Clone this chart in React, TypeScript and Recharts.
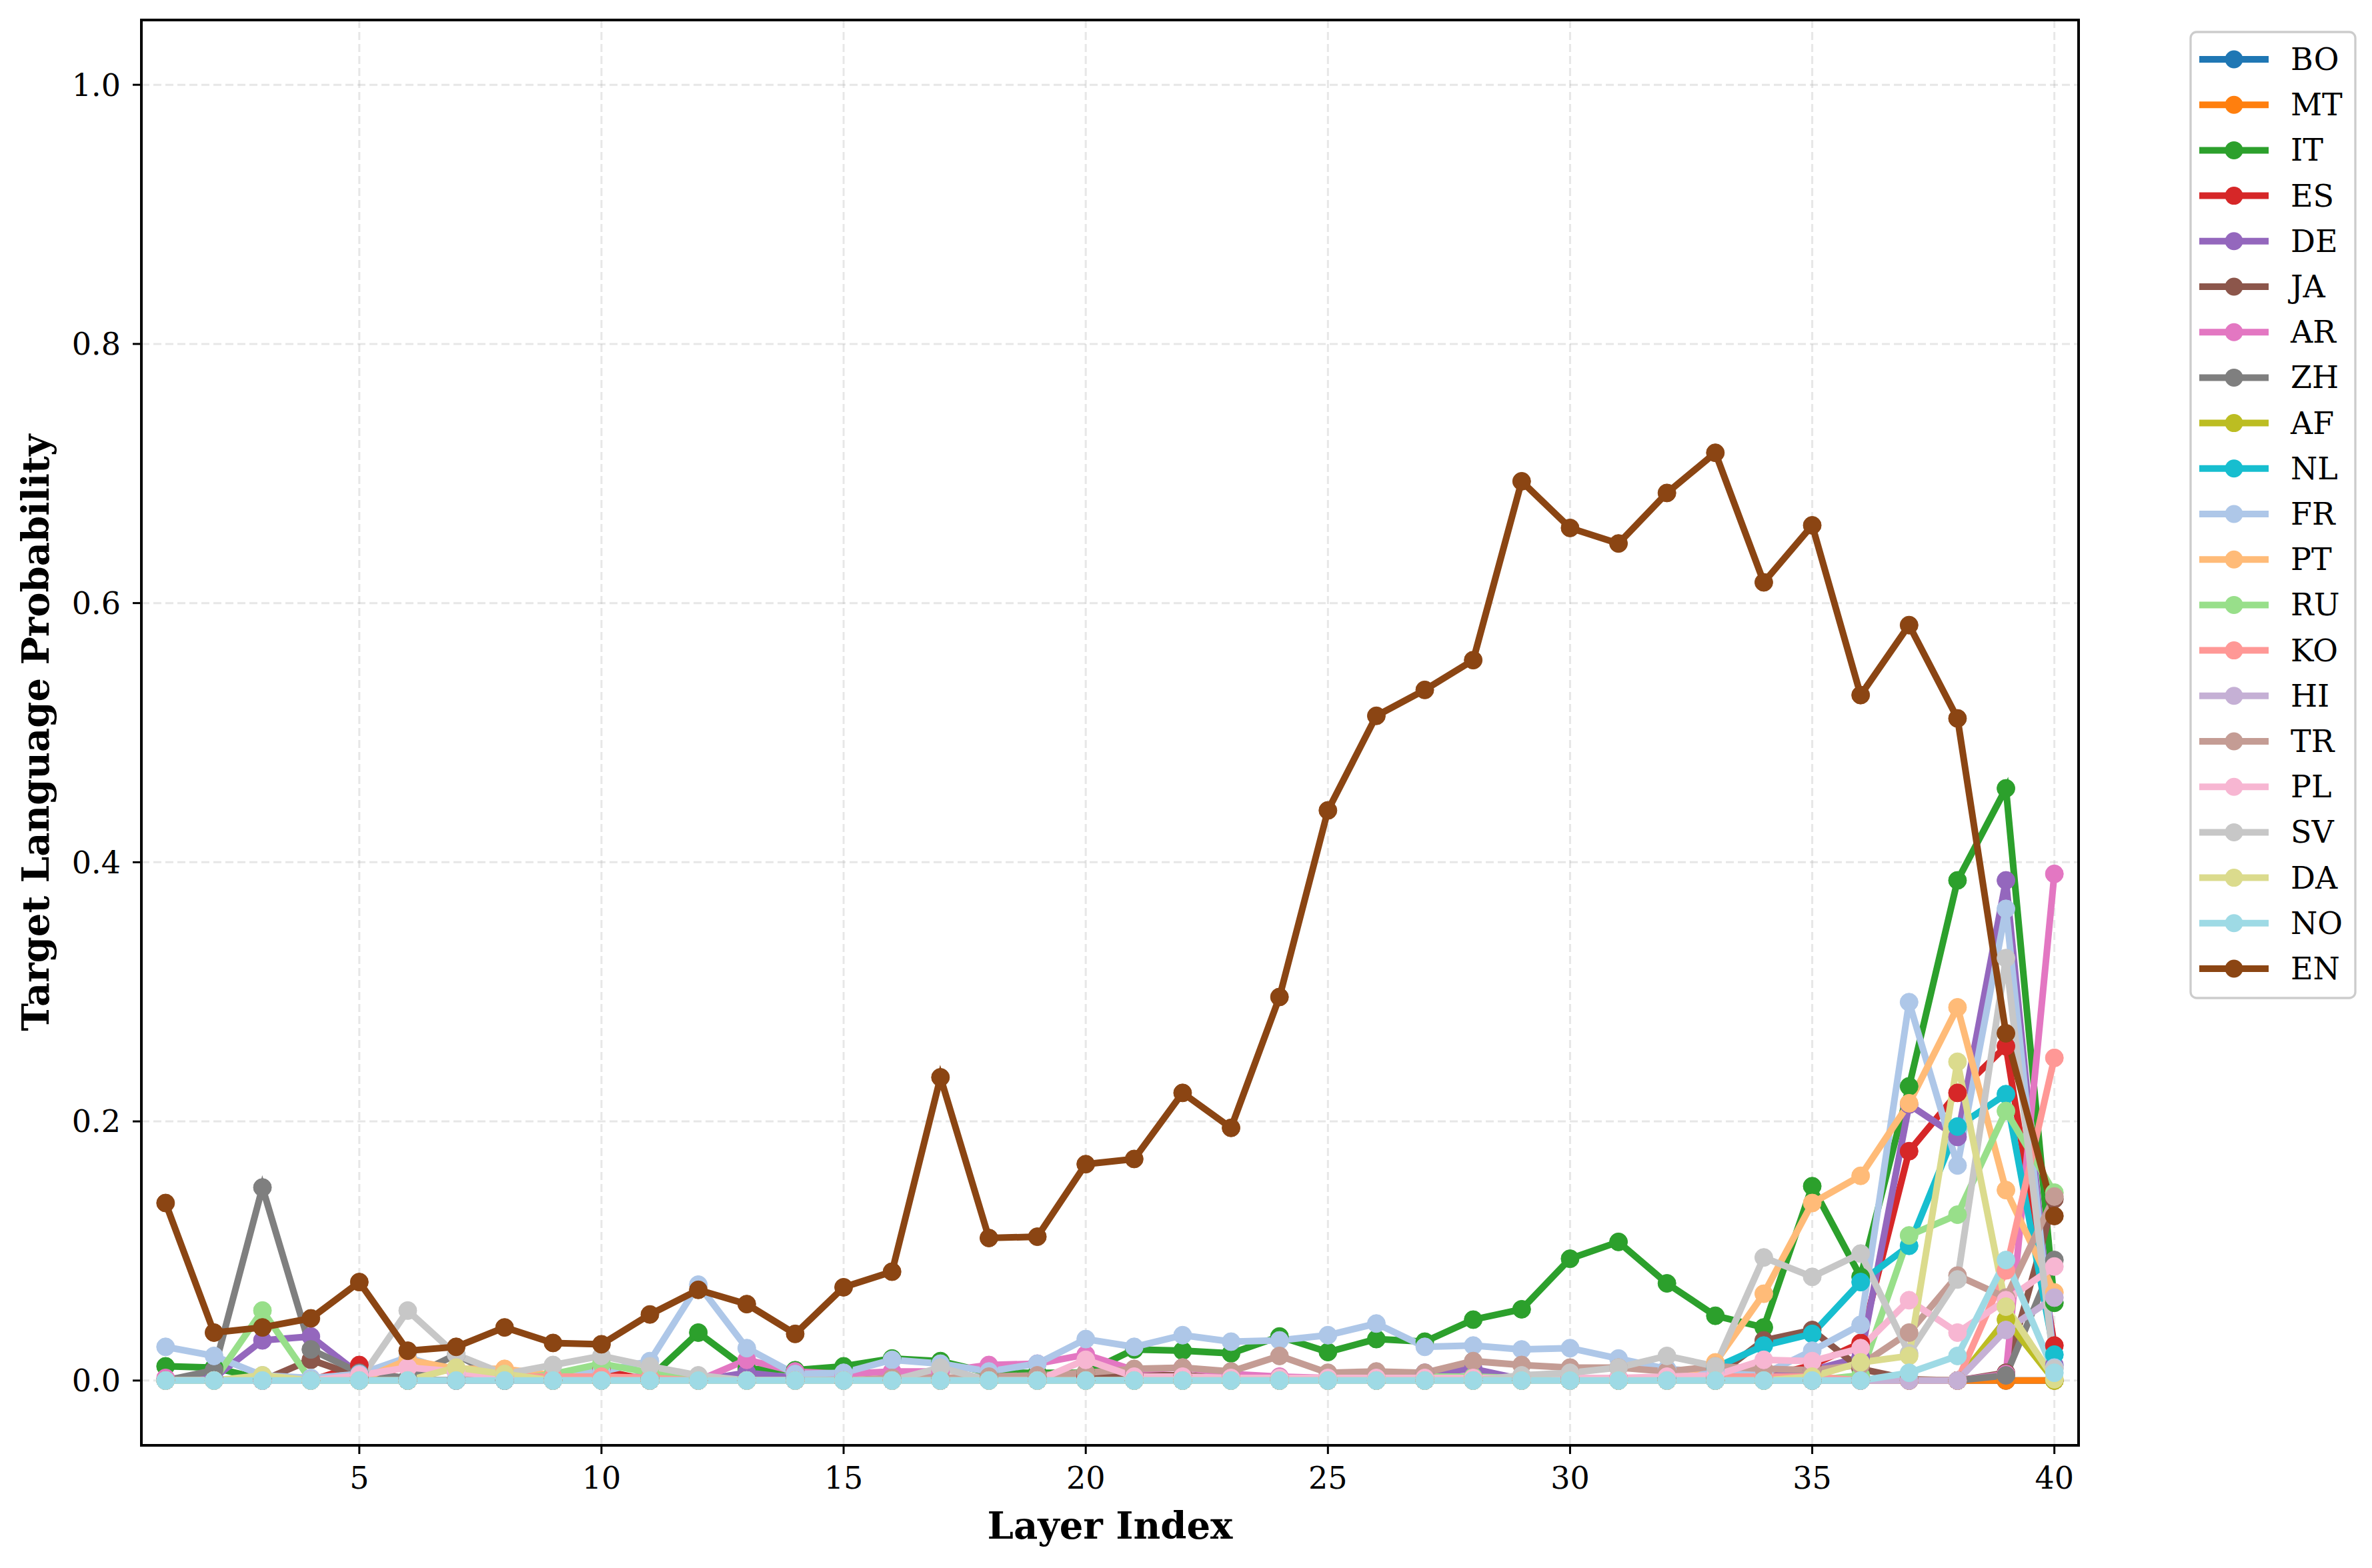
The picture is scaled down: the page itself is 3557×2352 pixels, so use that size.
import React from 'react';
import { LineChart, Line, XAxis, YAxis, CartesianGrid, ReferenceArea } from 'recharts';

const FONT = '"DejaVu Serif", serif';

const layers = [1, 2, 3, 4, 5, 6, 7, 8, 9, 10, 11, 12, 13, 14, 15, 16, 17, 18, 19, 20,
  21, 22, 23, 24, 25, 26, 27, 28, 29, 30, 31, 32, 33, 34, 35, 36, 37, 38, 39, 40];

const xTicks = [5, 10, 15, 20, 25, 30, 35, 40];
const yTicks = [0, 0.2, 0.4, 0.6, 0.8, 1.0];

// target language probability per layer (layers 1..40)
const BO = [0, 0, 0, 0, 0, 0, 0, 0, 0, 0, 0, 0, 0, 0, 0, 0, 0, 0, 0, 0,
  0, 0, 0, 0, 0, 0, 0, 0, 0, 0, 0, 0, 0, 0, 0, 0, 0, 0, 0, 0];
const MT = [0, 0, 0, 0, 0, 0, 0, 0, 0, 0, 0, 0, 0, 0, 0, 0, 0, 0, 0, 0,
  0, 0, 0, 0, 0, 0, 0, 0, 0, 0, 0, 0, 0, 0, 0, 0, 0, 0, 0, 0];
const IT = [0.011, 0.010, 0.001, 0, 0, 0, 0, 0, 0, 0, 0.002, 0.037, 0.009, 0.008, 0.011, 0.017, 0.015, 0.006, 0.006, 0.006,
  0.024, 0.023, 0.021, 0.034, 0.022, 0.032, 0.030, 0.047, 0.055, 0.094, 0.107, 0.075, 0.050, 0.041, 0.150, 0.080, 0.227, 0.386, 0.457, 0.060];
const ES = [0, 0, 0, 0, 0.012, 0, 0, 0, 0, 0.008, 0, 0, 0, 0, 0, 0, 0, 0, 0, 0.003,
  0, 0, 0, 0, 0, 0, 0, 0, 0, 0, 0, 0, 0, 0.002, 0.012, 0.029, 0.177, 0.222, 0.258, 0.027];
const DE = [0, 0.002, 0.031, 0.034, 0.005, 0, 0, 0, 0, 0, 0, 0, 0.006, 0.002, 0, 0, 0, 0, 0, 0,
  0, 0, 0, 0, 0, 0, 0.006, 0.009, 0.001, 0, 0, 0, 0, 0.002, 0.008, 0.018, 0.213, 0.188, 0.386, 0.012];
const JA = [0, 0, 0, 0.016, 0.003, 0, 0, 0, 0, 0, 0, 0, 0, 0, 0, 0, 0, 0.002, 0.003, 0.005,
  0.004, 0.004, 0.002, 0.002, 0, 0, 0, 0.002, 0.002, 0.002, 0.002, 0.002, 0.003, 0.031, 0.039, 0.009, 0.001, 0, 0.006, 0.140];
const AR = [0.002, 0, 0, 0, 0, 0, 0, 0, 0, 0, 0.004, 0, 0.016, 0.007, 0.005, 0.007, 0.007, 0.012, 0.013, 0.020,
  0.008, 0.010, 0.005, 0.003, 0.002, 0.002, 0.002, 0.002, 0.002, 0.002, 0.002, 0.002, 0, 0, 0, 0, 0, 0, 0.005, 0.391];
const ZH = [0, 0.008, 0.149, 0.024, 0.006, 0.002, 0.020, 0, 0, 0, 0, 0, 0, 0, 0, 0, 0, 0, 0, 0,
  0, 0, 0, 0, 0, 0, 0, 0, 0, 0, 0, 0, 0, 0, 0, 0, 0, 0, 0.004, 0.093];
const AF = [0, 0, 0, 0, 0, 0, 0, 0, 0, 0, 0, 0, 0, 0, 0, 0, 0, 0, 0, 0,
  0, 0, 0, 0, 0, 0, 0, 0, 0, 0, 0, 0, 0, 0, 0, 0, 0, 0, 0.047, 0];
const NL = [0, 0, 0, 0, 0, 0, 0, 0, 0, 0, 0, 0, 0, 0, 0, 0, 0, 0, 0, 0,
  0, 0, 0, 0, 0, 0, 0, 0, 0, 0, 0, 0.002, 0.010, 0.027, 0.036, 0.076, 0.104, 0.196, 0.221, 0.020];
const FR = [0.026, 0.019, 0.004, 0.002, 0.005, 0.018, 0.006, 0.004, 0.005, 0.007, 0.015, 0.074, 0.025, 0.005, 0.006, 0.016, 0.013, 0.007, 0.013, 0.032,
  0.026, 0.035, 0.030, 0.031, 0.035, 0.044, 0.026, 0.027, 0.024, 0.025, 0.017, 0.009, 0.006, 0.005, 0.023, 0.043, 0.292, 0.166, 0.364, 0.010];
const PT = [0, 0, 0, 0, 0, 0.016, 0.009, 0.009, 0.004, 0.002, 0, 0, 0, 0, 0, 0, 0, 0, 0, 0,
  0, 0, 0, 0, 0, 0, 0, 0, 0, 0, 0, 0, 0.014, 0.067, 0.137, 0.158, 0.214, 0.288, 0.147, 0.068];
const RU = [0, 0, 0.054, 0, 0, 0, 0, 0, 0.005, 0.013, 0.006, 0.002, 0, 0, 0, 0, 0, 0, 0, 0,
  0, 0, 0, 0.002, 0.002, 0.002, 0.003, 0.003, 0.002, 0.001, 0, 0, 0, 0, 0, 0.004, 0.112, 0.128, 0.208, 0.145];
const KO = [0, 0, 0, 0, 0, 0, 0, 0.003, 0.003, 0.003, 0.002, 0, 0, 0, 0, 0, 0, 0, 0, 0,
  0, 0, 0, 0, 0, 0, 0, 0, 0, 0, 0, 0, 0.003, 0.003, 0.003, 0, 0, 0, 0.085, 0.249];
const HI = [0, 0, 0, 0, 0, 0, 0, 0, 0, 0, 0, 0, 0, 0, 0, 0, 0, 0, 0, 0,
  0, 0, 0, 0, 0, 0, 0, 0, 0, 0, 0, 0, 0, 0, 0, 0, 0, 0, 0.039, 0.064];
const TR = [0, 0, 0, 0, 0, 0, 0, 0, 0, 0, 0, 0, 0, 0, 0, 0.002, 0.002, 0.003, 0.004, 0.006,
  0.009, 0.010, 0.007, 0.019, 0.006, 0.007, 0.006, 0.015, 0.012, 0.010, 0.010, 0.007, 0.011, 0.009, 0.008, 0.012, 0.037, 0.081, 0.064, 0.142];
const PL = [0, 0, 0, 0, 0.004, 0.010, 0.007, 0.002, 0, 0, 0, 0, 0, 0, 0, 0, 0, 0, 0, 0.016,
  0.003, 0.003, 0.002, 0.002, 0.002, 0.002, 0.002, 0.002, 0.002, 0.002, 0.002, 0.003, 0.004, 0.016, 0.015, 0.025, 0.062, 0.037, 0.062, 0.088];
const SV = [0, 0, 0, 0, 0, 0.054, 0.020, 0.005, 0.012, 0.019, 0.011, 0.004, 0, 0, 0, 0, 0.010, 0, 0, 0,
  0, 0, 0, 0, 0, 0, 0, 0, 0.004, 0.006, 0.010, 0.019, 0.011, 0.095, 0.080, 0.098, 0.021, 0.078, 0.326, 0.009];
const DA = [0, 0, 0.004, 0, 0, 0, 0.010, 0.005, 0, 0, 0, 0, 0, 0, 0, 0, 0, 0, 0, 0,
  0, 0, 0, 0, 0, 0, 0, 0, 0, 0, 0, 0, 0, 0, 0.003, 0.014, 0.019, 0.246, 0.057, 0.001];
const NO = [0, 0, 0, 0, 0, 0, 0, 0, 0, 0, 0, 0, 0, 0, 0, 0, 0, 0, 0, 0,
  0, 0, 0, 0, 0, 0, 0, 0, 0, 0, 0, 0, 0, 0, 0, 0, 0.006, 0.019, 0.093, 0.006];
const EN = [0.137, 0.037, 0.041, 0.048, 0.076, 0.023, 0.026, 0.041, 0.029, 0.028, 0.051, 0.070, 0.059, 0.036, 0.072, 0.084, 0.234, 0.110, 0.111, 0.167,
  0.171, 0.222, 0.195, 0.296, 0.440, 0.513, 0.533, 0.556, 0.694, 0.658, 0.646, 0.685, 0.716, 0.616, 0.660, 0.529, 0.583, 0.511, 0.268, 0.127];

const series = [
  { key: 'BO', color: '#1f77b4', values: BO },
  { key: 'MT', color: '#ff7f0e', values: MT },
  { key: 'IT', color: '#2ca02c', values: IT },
  { key: 'ES', color: '#d62728', values: ES },
  { key: 'DE', color: '#9467bd', values: DE },
  { key: 'JA', color: '#8c564b', values: JA },
  { key: 'AR', color: '#e377c2', values: AR },
  { key: 'ZH', color: '#7f7f7f', values: ZH },
  { key: 'AF', color: '#bcbd22', values: AF },
  { key: 'NL', color: '#17becf', values: NL },
  { key: 'FR', color: '#aec7e8', values: FR },
  { key: 'PT', color: '#ffbb78', values: PT },
  { key: 'RU', color: '#98df8a', values: RU },
  { key: 'KO', color: '#ff9896', values: KO },
  { key: 'HI', color: '#c5b0d5', values: HI },
  { key: 'TR', color: '#c49c94', values: TR },
  { key: 'PL', color: '#f7b6d2', values: PL },
  { key: 'SV', color: '#c7c7c7', values: SV },
  { key: 'DA', color: '#dbdb8d', values: DA },
  { key: 'NO', color: '#9edae5', values: NO },
  { key: 'EN', color: '#8b4513', values: EN },
];

const data = layers.map((layer, i) => {
  const row: { [k: string]: number } = { layer };
  series.forEach(s => { row[s.key] = s.values[i]; });
  return row;
});

const XLabel = ({ viewBox }: any) => (
  <text x={viewBox.x + viewBox.width / 2} y={2308} textAnchor="middle"
    fontFamily={FONT} fontWeight="bold" fontSize={56} fill="#000">Layer Index</text>
);

const YLabel = () => {
  const cx = 73;
  const cy = 1099;
  return (
    <text x={cx} y={cy} transform={`rotate(-90 ${cx} ${cy})`} textAnchor="middle"
      fontFamily={FONT} fontWeight="bold" fontSize={56} fill="#000">Target Language Probability</text>
  );
};

const LegendBox = () => (
  <svg width={3557} height={2352} style={{ position: 'absolute', left: 0, top: 0, pointerEvents: 'none' }}>
    <rect x={3285} y={48} width={247} height={1449} rx={9} fill="#fff" fillOpacity={0.8} stroke="#cccccc" strokeWidth={3.3} />
    {series.map((s, i) => {
      const y = 89 + i * 68.2;
      return (
        <g key={s.key}>
          <line x1={3298} x2={3402} y1={y} y2={y} stroke={s.color} strokeWidth={10} />
          <circle cx={3350} cy={y} r={13.5} fill={s.color} />
          <text x={3435} y={y} dominantBaseline="central" fontSize={46} fontFamily={FONT} fill="#000">{s.key}</text>
        </g>
      );
    })}
  </svg>
);

export default function App() {
  return (
    <div style={{ position: 'absolute', left: 0, top: 0, width: 3557, height: 2352, background: '#fff' }}>
      <LineChart width={3557} height={2352} data={data} margin={{ top: 30, right: 440, bottom: 0, left: 0 }}>
        <CartesianGrid stroke="#b0b0b0" strokeOpacity={0.3} strokeWidth={3} strokeDasharray="12 6" />
        <XAxis dataKey="layer" type="number" domain={[0.5, 40.5]} ticks={xTicks} height={184}
          axisLine={false} tickSize={13} tickMargin={19}
          tickLine={{ stroke: '#000', strokeWidth: 3 }}
          tick={{ fontFamily: FONT, fontSize: 46, fill: '#000' }}
          label={<XLabel />} />
        <YAxis type="number" domain={[-0.05, 1.05]} ticks={yTicks} width={212}
          axisLine={false} tickSize={13} tickMargin={18}
          tickLine={{ stroke: '#000', strokeWidth: 3 }}
          tick={{ fontFamily: FONT, fontSize: 46, fill: '#000' }}
          tickFormatter={(v: number) => v.toFixed(1)}
          label={<YLabel />} />
        {series.map(s => (
          <Line key={s.key} type="linear" dataKey={s.key} stroke={s.color} strokeWidth={10}
            dot={{ r: 13.5, fill: s.color, stroke: s.color, strokeWidth: 1 }}
            activeDot={false} isAnimationActive={false} />
        ))}
        <ReferenceArea x1={0.5} x2={40.5} y1={-0.05} y2={1.05} fill="none" stroke="#000" strokeWidth={4} fillOpacity={0} />
      </LineChart>
      <LegendBox />
    </div>
  );
}
